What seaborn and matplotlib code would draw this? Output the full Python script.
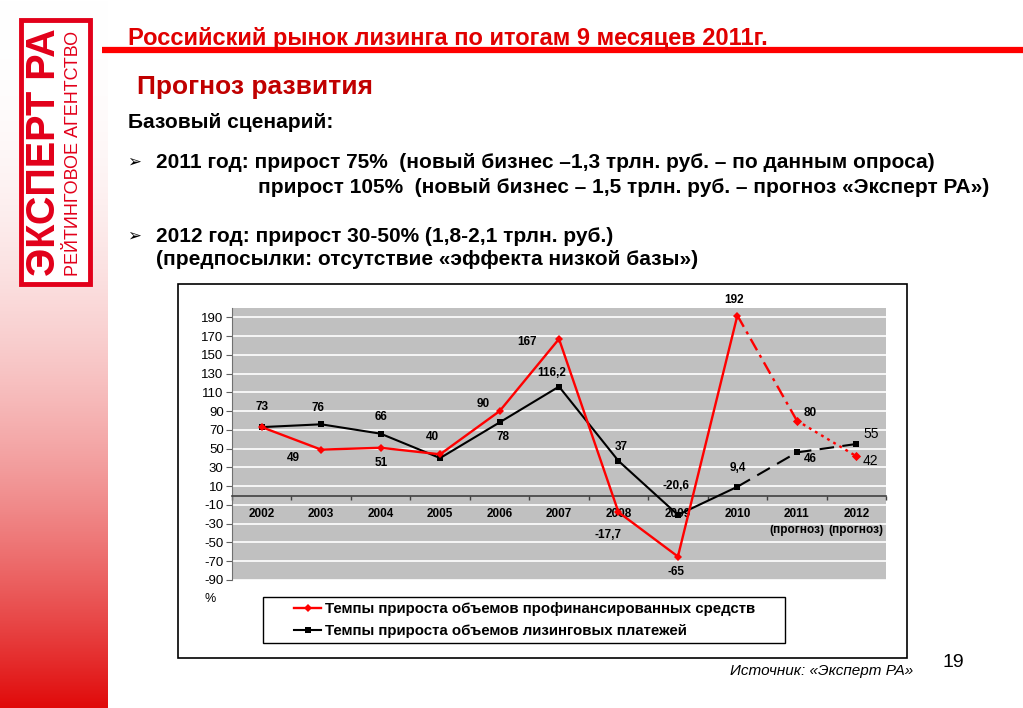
import numpy as np
import pandas as pd
import matplotlib
matplotlib.use("Agg")
import matplotlib.pyplot as plt
import seaborn as sns
from matplotlib.lines import Line2D
from matplotlib.patches import Rectangle

# ---------------- data ----------------
years = ["2002", "2003", "2004", "2005", "2006", "2007", "2008", "2009", "2010", "2011", "2012"]
tick_labels = ["2002", "2003", "2004", "2005", "2006", "2007", "2008", "2009", "2010",
               "2011\n(прогноз)", "2012\n(прогноз)"]
financed = [73, 49, 51, 44, 90, 167, -17.7, -65, 192, 80, 42]
payments = [73, 76, 66, 40, 78, 116.2, 37, -20.6, 9.4, 46, 55]
financed_text = ["", "49", "51", "", "90", "167", "-17,7", "-65", "192", "80", "42"]
payments_text = ["73", "76", "66", "40", "78", "116,2", "37", "-20,6", "9,4", "46", "55"]
series_names = ["Темпы прироста объемов профинансированных средств",
                "Темпы прироста объемов лизинговых платежей"]
y_ticks = list(range(-90, 191, 20))
last_actual = 8  # index of 2010

# label offsets (pixels, dx, dy-up)
fin_off = [(0, 0), (-28, -8), (1, -15), (0, 0), (-16, 7), (-32, -3), (-10, -23),
           (-2, -15), (-3, 16), (13, 8), (14, -5)]
pay_off = [(0, 20), (-3, 16), (0, 17), (-8, 21), (3, -15), (-7, 14), (3, 14),
           (-2, 29), (0, 19), (13, -7), (15, 10)]

W, H = 1023, 708
AR = ["Liberation Sans", "DejaVu Sans"]
RED = "#FF0000"

fig = plt.figure(figsize=(W / 100, H / 100), dpi=100)

# ---------------- slide background ----------------
bg = fig.add_axes([0, 0, 1, 1], zorder=0)
t = np.linspace(0, 1, 400) ** 2.2
top = np.array([1.0, 1.0, 1.0])
bot = np.array([0.88, 0.04, 0.04])
grad = (top[None, :] * (1 - t[:, None]) + bot[None, :] * t[:, None])[:, None, :]
bg.imshow(grad, extent=(0, 108, H, 0), aspect="auto", interpolation="bilinear")
bg.set_xlim(0, W)
bg.set_ylim(H, 0)
bg.axis("off")

# logo
bg.add_patch(Rectangle((21, 20), 69, 264, fc="white", ec="#E2001A", lw=3.5))
bg.text(44, 152, "ЭКСПЕРТ РА", rotation=90, ha="center", va="center", fontsize=28.5,
        fontweight="heavy", color="#E2001A", family=AR)
bg.text(73, 153, "РЕЙТИНГОВОЕ АГЕНТСТВО", rotation=90, ha="center", va="center",
        fontsize=13, color="#E2001A", family=AR)

# title & line
bg.text(128, 45, "Российский рынок лизинга по итогам 9 месяцев 2011г.", fontsize=17,
        fontweight="bold", color="#E00000", family=AR, va="baseline")
bg.plot([102, W], [50, 50], color=RED, lw=4.5, solid_capstyle="butt")
bg.text(137, 94, "Прогноз развития", fontsize=19, fontweight="bold", color="#C00000",
        family=AR, va="baseline")
bg.text(128, 128, "Базовый сценарий:", fontsize=15, fontweight="bold", color="black",
        family=AR, va="baseline")
bg.text(127, 167, "➢", fontsize=12, color="black", family=["DejaVu Sans"], va="baseline")
bg.text(156, 168, "2011 год: прирост 75%  (новый бизнес –1,3 трлн. руб. – по данным опроса)",
        fontsize=15, fontweight="bold", family=AR, va="baseline")
bg.text(258, 193, "прирост 105%  (новый бизнес – 1,5 трлн. руб. – прогноз «Эксперт РА»)",
        fontsize=15, fontweight="bold", family=AR, va="baseline")
bg.text(127, 241, "➢", fontsize=12, color="black", family=["DejaVu Sans"], va="baseline")
bg.text(156, 242, "2012 год: прирост 30-50% (1,8-2,1 трлн. руб.)",
        fontsize=15, fontweight="bold", family=AR, va="baseline")
bg.text(156, 265, "(предпосылки: отсутствие «эффекта низкой базы»)",
        fontsize=15, fontweight="bold", family=AR, va="baseline")
bg.text(942, 667, "19", fontsize=14, family=AR, va="baseline")
bg.text(913, 675, "Источник: «Эксперт РА»", fontsize=11, fontstyle="italic", family=AR,
        va="baseline", ha="right")

# chart frame
bg.add_patch(Rectangle((178, 284), 907 - 178, 658 - 284, fc="white", ec="black", lw=1.2))
bg.text(210, 599, "%", fontsize=9, family=AR, ha="center", va="center")
# legend frame
bg.add_patch(Rectangle((263, 597), 785 - 263, 643 - 597, fc="white", ec="black", lw=1.0))

# ---------------- chart ----------------
ax = fig.add_axes([232 / W, (H - 580) / H, 654 / W, 272 / H], zorder=2)
ax.set_facecolor("#C0C0C0")

idx = np.arange(len(years))
df = pd.DataFrame({"i": idx, "fin": financed, "pay": payments})
act = df.iloc[: last_actual + 1]
f1 = df.iloc[last_actual: last_actual + 2]
f2 = df.iloc[last_actual + 1:]

sns.lineplot(data=act, x="i", y="fin", ax=ax, color=RED, lw=1.7, marker="D",
             markersize=4.5, markeredgewidth=0, zorder=4)
sns.lineplot(data=act, x="i", y="pay", ax=ax, color="black", lw=1.5, marker="s",
             markersize=4.5, markeredgewidth=0, zorder=3)
sns.lineplot(data=f1, x="i", y="fin", ax=ax, color=RED, lw=1.7, zorder=4)
ax.lines[-1].set_dashes((5.5, 2.3, 1.3, 2.3))
sns.lineplot(data=f2, x="i", y="fin", ax=ax, color=RED, lw=1.7, zorder=4)
ax.lines[-1].set_dashes((1.2, 1.8))
sns.lineplot(data=df.iloc[last_actual:], x="i", y="pay", ax=ax, color="black", lw=1.5, zorder=3)
ax.lines[-1].set_dashes((7, 4))
sns.scatterplot(data=df.iloc[last_actual + 1:], x="i", y="fin", ax=ax, color=RED, marker="D",
                s=22, linewidth=0, zorder=5)
sns.scatterplot(data=df.iloc[last_actual + 1:], x="i", y="pay", ax=ax, color="black", marker="s",
                s=22, linewidth=0, zorder=5)

# data labels
for i in idx:
    big = i == len(idx) - 1
    if payments_text[i]:
        ax.annotate(payments_text[i], (i, payments[i]), xytext=pay_off[i], textcoords="offset pixels",
                    ha="center", va="center", fontsize=10 if big else 8.5,
                    fontweight="normal" if big else "bold", family=AR, annotation_clip=False, zorder=6)
    if financed_text[i]:
        ax.annotate(financed_text[i], (i, financed[i]), xytext=fin_off[i], textcoords="offset pixels",
                    ha="center", va="center", fontsize=10 if big else 8.5,
                    fontweight="normal" if big else "bold", family=AR, annotation_clip=False, zorder=6)

# spines first (set_position resets ticks)
for s in ["top", "right"]:
    ax.spines[s].set_visible(False)
ax.spines["left"].set_color("#707070")
ax.spines["bottom"].set_position(("data", 0))
ax.spines["bottom"].set_color("#404040")
ax.spines["bottom"].set_linewidth(1.2)

ax.set_xlim(-0.5, len(years) - 0.5)
ax.set_ylim(-90, 200)
ax.set_yticks(y_ticks)
ax.set_yticklabels([str(v) for v in y_ticks], fontsize=9.5, family=AR)
ax.set_xticks(idx)
ax.set_xticklabels(tick_labels, fontsize=8.5, fontweight="bold", family=AR)
for lbl in ax.get_xticklabels():
    lbl.set_linespacing(1.45)
ax.set_xticks(np.arange(-0.5, len(years), 1), minor=True)
ax.tick_params(axis="x", which="major", length=0, pad=9)
ax.tick_params(axis="x", which="minor", length=3, width=1, color="#404040", direction="out")
ax.tick_params(axis="y", length=4, width=0.8, color="#606060", pad=2)
ax.grid(axis="y", color="white", lw=1.2)
ax.grid(axis="x", visible=False)
ax.set_axisbelow(True)
ax.set_xlabel("")
ax.set_ylabel("")

handles = [Line2D([], [], color=RED, lw=1.7, marker="D", markersize=4.5, markeredgewidth=0),
           Line2D([], [], color="black", lw=1.5, marker="s", markersize=4.5, markeredgewidth=0)]
fig.legend(handles, series_names, loc="center left", bbox_to_anchor=(294 / W, 1 - 620 / H),
           bbox_transform=fig.transFigure, frameon=False, borderpad=0, borderaxespad=0,
           handlelength=1.8, handletextpad=0.25, labelspacing=0.55,
           prop={"family": AR, "weight": "bold", "size": 10.8})

fig.savefig("out.png", dpi=100)
